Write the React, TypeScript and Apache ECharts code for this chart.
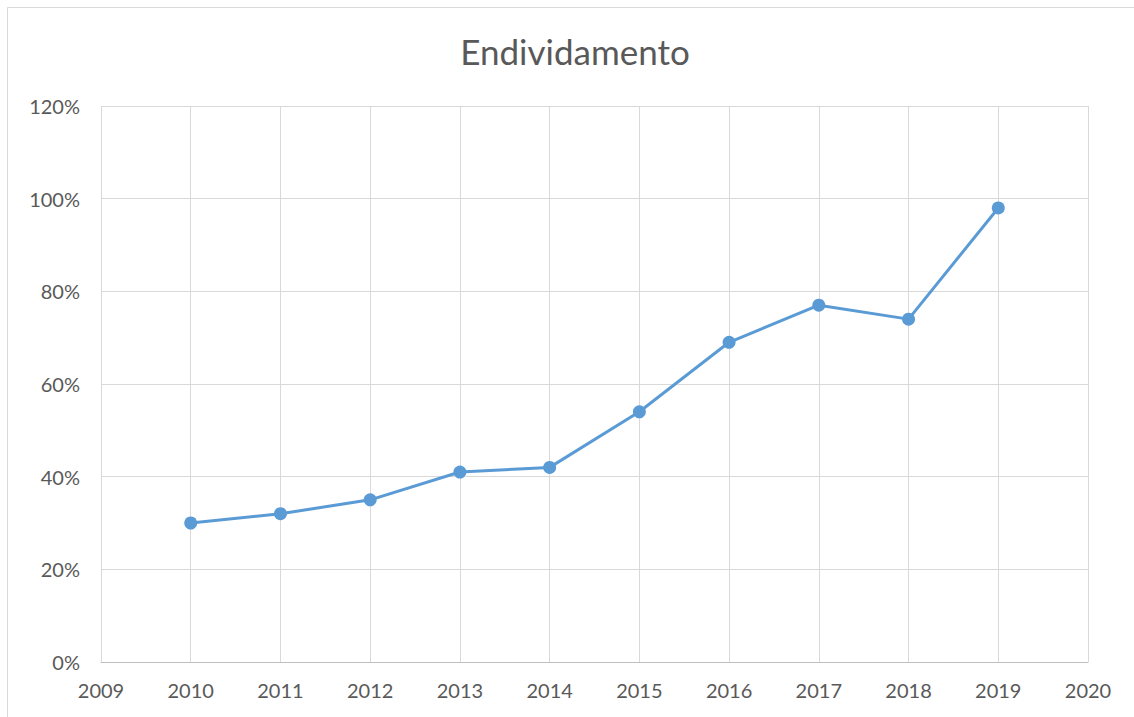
import React, { useEffect, useRef } from "react";
import * as echarts from "echarts";

const years = [2010, 2011, 2012, 2013, 2014, 2015, 2016, 2017, 2018, 2019];
const values = [30, 32, 35, 41, 42, 54, 69, 77, 74, 98];
const titleText = "Endividamento";

export default function App() {
  const ref = useRef<HTMLDivElement>(null);
  useEffect(() => {
    const chart = echarts.init(ref.current!, undefined, { renderer: "svg" });
    const font = "Lato";
    chart.setOption({
      animation: false,
      backgroundColor: "#ffffff",
      graphic: [
        {
          type: "rect",
          shape: { x: 7.5, y: 7.5, width: 1140, height: 720 },
          style: { fill: "none", stroke: "#d9d9d9", lineWidth: 1 },
          silent: true,
        },
        {
          type: "text",
          x: 575,
          y: 51,
          style: {
            text: titleText,
            fontFamily: font,
            fontSize: 35,
            fill: "#595959",
            textAlign: "center",
            textVerticalAlign: "middle",
          },
          silent: true,
        },
      ],
      grid: { left: 101, right: 46, top: 106, bottom: 55, containLabel: false },
      xAxis: {
        type: "value",
        min: 2009,
        max: 2020,
        interval: 1,
        axisLine: { show: true, lineStyle: { color: "#bfbfbf", width: 1 } },
        axisTick: { show: false },
        splitLine: { show: true, lineStyle: { color: "#d9d9d9", width: 1 } },
        axisLabel: {
          fontFamily: font,
          fontSize: 20,
          color: "#595959",
          margin: 18,
          formatter: (v: number) => String(v),
        },
      },
      yAxis: {
        type: "value",
        min: 0,
        max: 120,
        interval: 20,
        axisLine: { show: false },
        axisTick: { show: false },
        splitLine: { show: true, lineStyle: { color: "#d9d9d9", width: 1 } },
        axisLabel: {
          fontFamily: font,
          fontSize: 20,
          color: "#595959",
          margin: 21,
          formatter: (v: number) => v + "%",
        },
      },
      series: [
        {
          type: "line",
          data: years.map((y, i) => [y, values[i]]),
          lineStyle: { color: "#5b9bd5", width: 3 },
          itemStyle: { color: "#5b9bd5" },
          symbol: "circle",
          symbolSize: 13,
        },
      ],
    });
    return () => chart.dispose();
  }, []);
  return (
    <div
      ref={ref}
      style={{ position: "fixed", left: 0, top: 0, width: 1134, height: 717 }}
    />
  );
}
